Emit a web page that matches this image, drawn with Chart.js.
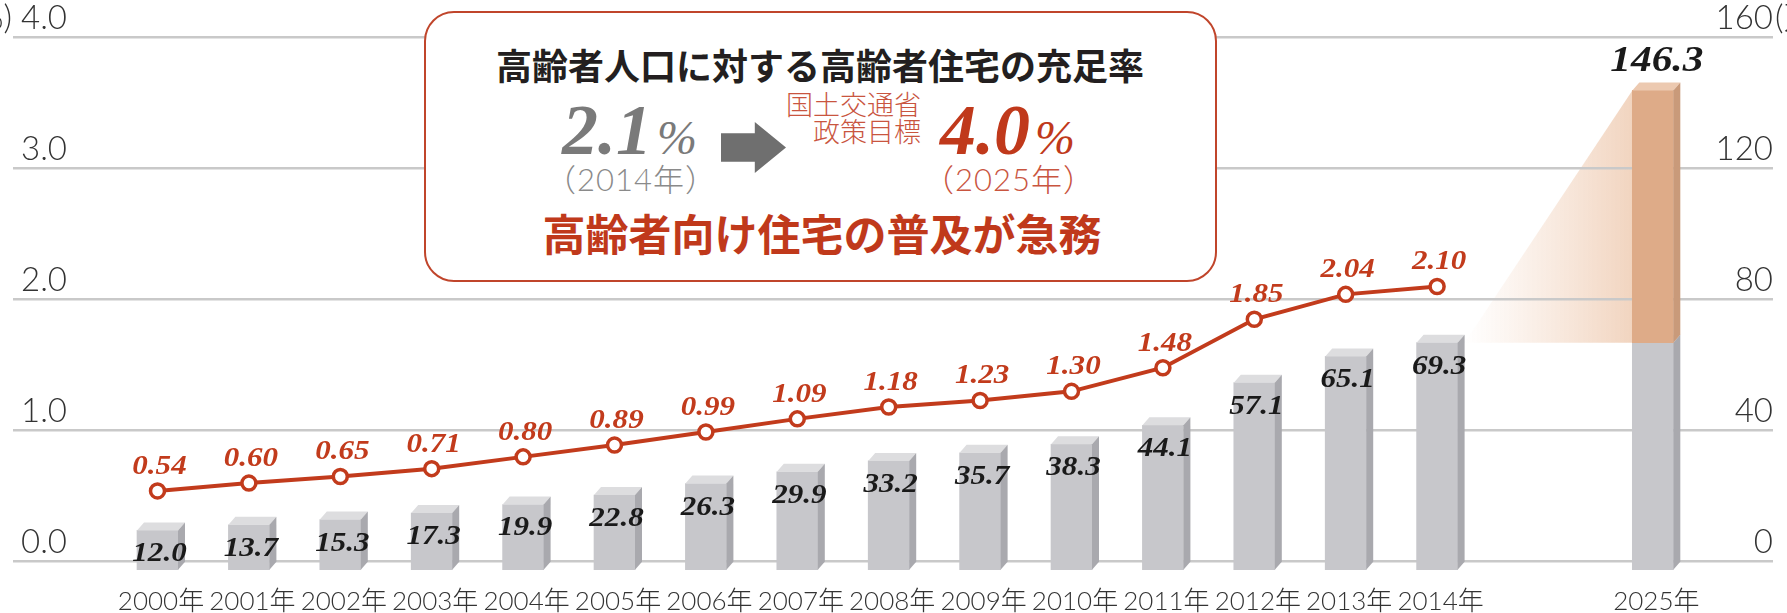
<!DOCTYPE html>
<html lang="ja">
<head>
<meta charset="utf-8">
<title>高齢者人口に対する高齢者住宅の充足率</title>
<script src="https://cdn.jsdelivr.net/npm/chart.js@4.4.1/dist/chart.umd.min.js"></script>
<style>
	html, body { margin: 0; padding: 0; background: #fff; }
	#wrap { position: relative; width: 1787px; height: 613px; overflow: hidden; }
	#chart { position: absolute; left: 0; top: 0; }
	.box {
		position: absolute; left: 424px; top: 11px; width: 793px; height: 271px;
		box-sizing: border-box; border: 2.5px solid #c0452b; border-radius: 30px; background: #fff;
	}
	.t { position: absolute; white-space: nowrap; line-height: 1; }
	.c { transform: translate(-50%, -50%); }
	.jp { font-family: "Noto Sans CJK JP", sans-serif; }
	.thin { font-family: Lato, "Noto Sans CJK JP", sans-serif; font-weight: 300; }
	.num { font-family: "Liberation Serif", "Times New Roman", serif; font-style: italic; font-weight: 700; font-size: 72px; }
	.num .pct { font-weight: 400; font-size: 48px; margin-left: 5px; }
	.title { left: 820px; top: 64px; font-size: 36px; font-weight: 700; color: #231f20; }
	.now { left: 562px; top: 94px; color: #7a7a7a; }
	.now-year { left: 631px; top: 179px; font-size: 31px; letter-spacing: 1px; color: #8a8a8a; }
	.arrow {
		position: absolute; left: 721px; top: 122px; width: 65px; height: 51px; background: #6f6f6f;
		clip-path: polygon(0 22%, 52% 22%, 52% 0, 100% 50%, 52% 100%, 52% 78%, 0 78%);
	}
	.policy { right: 866px; top: 91px; font-size: 27px; line-height: 27px; text-align: right; color: #c9553f; }
	.goal { left: 940px; top: 94px; color: #c0391b; }
	.goal-year { left: 1009px; top: 179px; font-size: 31px; letter-spacing: 1px; color: #c9553f; }
	.slogan { left: 822px; top: 232px; font-size: 43px; font-weight: 700; color: #c0391b; }
</style>
</head>
<body>
<div id="wrap">
	<canvas id="chart" width="1787" height="613"></canvas>
	<div class="box"></div>
	<div class="t c jp title">高齢者人口に対する高齢者住宅の充足率</div>
	<div class="t num now">2.1<span class="pct">%</span></div>
	<div class="t c thin now-year">（2014年）</div>
	<div class="arrow"></div>
	<div class="t thin policy">国土交通省<br>政策目標</div>
	<div class="t num goal">4.0<span class="pct">%</span></div>
	<div class="t c thin goal-year">（2025年）</div>
	<div class="t c jp slogan">高齢者向け住宅の普及が急務</div>
</div>
<script>
// data
const years = ["2000年", "2001年", "2002年", "2003年", "2004年", "2005年", "2006年", "2007年",
	"2008年", "2009年", "2010年", "2011年", "2012年", "2013年", "2014年"];
const targetYear = "2025年";
const housing = [12.0, 13.7, 15.3, 17.3, 19.9, 22.8, 26.3, 29.9, 33.2, 35.7, 38.3, 44.1, 57.1, 65.1, 69.3];
const housingTarget = 146.3;
const rate = [0.54, 0.60, 0.65, 0.71, 0.80, 0.89, 0.99, 1.09, 1.18, 1.23, 1.30, 1.48, 1.85, 2.04, 2.10];
const rateTicks = [0, 1, 2, 3, 4];
const housingTicks = [0, 40, 80, 120, 160];

// layout
const GAP_2025 = 2.36; // slot distance between 2014 and 2025
const DX = 7, DY = 8;  // bar depth
const RED = "#c23b1c";
const LABEL_FONT = "italic bold 27px 'Liberation Serif', 'Times New Roman', serif";

const last = housing.length - 1;
const slots = years.map((y, i) => i).concat([last + GAP_2025]);
const slot2025 = slots[slots.length - 1];
const xLabels = years.concat([targetYear]);

const drawStretched = (ctx, text, x, y, font, color) => {
	ctx.save();
	ctx.font = font;
	ctx.fillStyle = color;
	ctx.textAlign = "center";
	ctx.textBaseline = "middle";
	ctx.translate(x, y);
	ctx.scale(1.15, 1);
	ctx.fillText(text, 0, 0);
	ctx.restore();
};

const barBox = (el) => {
	const p = el.getProps(["x", "y", "base", "width"], true);
	return {
		l: p.x - p.width / 2,
		r: p.x + p.width / 2,
		top: Math.min(p.y, p.base),
		bot: Math.max(p.y, p.base),
	};
};

const bars3d = {
	id: "bars3d",
	beforeDraw(chart) {
		// light fan from the 2014 bar up to the 2025 target
		const gray = chart.getDatasetMeta(0).data[last];
		const orange = chart.getDatasetMeta(1).data[0];
		if (!gray || !orange) return;
		const a = barBox(gray);
		const b = barBox(orange);
		const ctx = chart.ctx;
		const x0 = a.r + DX;
		const grad = ctx.createLinearGradient(x0, 0, b.l, 0);
		grad.addColorStop(0, "rgba(242, 210, 188, 0)");
		grad.addColorStop(1, "rgba(238, 202, 176, 0.8)");
		ctx.save();
		ctx.fillStyle = grad;
		ctx.beginPath();
		ctx.moveTo(x0, a.top + DY);
		ctx.lineTo(b.l, b.top + DY);
		ctx.lineTo(b.l, b.bot + DY);
		ctx.closePath();
		ctx.fill();
		ctx.restore();
	},
	beforeDatasetDraw(chart, args) {
		if (args.meta.type !== "bar") return;
		chart.ctx.save();
		chart.ctx.translate(0, DY);
	},
	afterDatasetDraw(chart, args) {
		if (args.meta.type !== "bar") return;
		const ctx = chart.ctx;
		const ds = chart.data.datasets[args.index];
		args.meta.data.forEach((el) => {
			const { l, r, top, bot } = barBox(el);
			ctx.fillStyle = ds.topColor;
			ctx.beginPath();
			ctx.moveTo(l, top);
			ctx.lineTo(r, top);
			ctx.lineTo(r + DX, top - DY);
			ctx.lineTo(l + DX, top - DY);
			ctx.closePath();
			ctx.fill();
			ctx.fillStyle = ds.sideColor;
			ctx.beginPath();
			ctx.moveTo(r, top);
			ctx.lineTo(r + DX, top - DY);
			ctx.lineTo(r + DX, bot - DY);
			ctx.lineTo(r, bot);
			ctx.closePath();
			ctx.fill();
		});
		ctx.restore();
	},
	afterDatasetsDraw(chart) {
		const ctx = chart.ctx;
		const { x, y, y2 } = chart.scales;
		housing.forEach((v, i) => {
			drawStretched(ctx, v.toFixed(1), x.getPixelForValue(i) + 2, y2.getPixelForValue(v) + 32, LABEL_FONT, "#1a1a1a");
		});
		drawStretched(ctx, housingTarget.toFixed(1), x.getPixelForValue(slot2025) + 4,
			y2.getPixelForValue(housingTarget) - 21, "italic bold 36px 'Liberation Serif', serif", "#1a1a1a");
		rate.forEach((v, i) => {
			drawStretched(ctx, v.toFixed(2), x.getPixelForValue(i) + 2, y.getPixelForValue(v) - 24, LABEL_FONT, RED);
		});
	},
	afterDraw(chart) {
		const ctx = chart.ctx;
		const { y, y2 } = chart.scales;
		ctx.save();
		ctx.font = "300 33px Lato, 'Noto Sans CJK JP', sans-serif";
		ctx.fillStyle = "#333";
		ctx.textBaseline = "middle";
		ctx.textAlign = "right";
		ctx.fillText("(%)", 12, y.getPixelForValue(4) - 19.5);
		ctx.textAlign = "left";
		ctx.fillText("(万戸)", 1775, y2.getPixelForValue(160) - 19.5);
		ctx.restore();
	},
};

const tickFont = { family: "Lato, 'Noto Sans CJK JP', sans-serif", size: 33, weight: 300 };

new Chart(document.getElementById("chart"), {
	data: {
		datasets: [
			{
				type: "bar",
				label: "高齢者住宅",
				yAxisID: "y2",
				data: housing.map((v, i) => ({ x: slots[i], y: v })).concat([{ x: slot2025, y: housing[last] }]),
				backgroundColor: "#c7c7cb",
				sideColor: "#a9a9ae",
				topColor: "#dddddf",
				barThickness: 41,
				maxBarThickness: 41,
				grouped: false,
				borderWidth: 0,
				clip: false,
				order: 2,
			},
			{
				type: "bar",
				label: "目標",
				yAxisID: "y2",
				data: [{ x: slot2025, y: [housing[last], housingTarget] }],
				backgroundColor: "#deab88",
				sideColor: "#c99a7a",
				topColor: "#ecc9b0",
				barThickness: 41,
				maxBarThickness: 41,
				grouped: false,
				borderWidth: 0,
				clip: false,
				order: 1,
			},
			{
				type: "line",
				label: "充足率",
				yAxisID: "y",
				data: rate.map((v, i) => ({ x: slots[i], y: v })),
				borderColor: RED,
				borderWidth: 4,
				pointRadius: 7,
				pointBorderWidth: 3.5,
				pointBackgroundColor: "#fff",
				pointBorderColor: RED,
				tension: 0,
				clip: false,
				order: 0,
			},
		],
	},
	options: {
		responsive: false,
		animation: false,
		layout: { padding: { left: 13, right: 14, top: 37.5, bottom: 0 } },
		plugins: { legend: { display: false }, tooltip: { enabled: false } },
		scales: {
			x: {
				type: "linear",
				offset: false,
				min: -1.581,
				max: 17.675,
				afterBuildTicks: (s) => { s.ticks = slots.map((v) => ({ value: v })); },
				afterFit: (s) => { s.height = 51.3; s.paddingLeft = 0; s.paddingRight = 0; },
				grid: { display: false, offset: false },
				border: { display: false },
				ticks: {
					autoSkip: false,
					maxRotation: 0,
					minRotation: 0,
					padding: 16,
					labelOffset: 3.5,
					color: "#333",
					font: { family: tickFont.family, size: 26, weight: 300 },
					callback: (v, i) => xLabels[i],
				},
			},
			y: {
				position: "left",
				min: 0,
				max: 4,
				afterBuildTicks: (s) => { s.ticks = rateTicks.map((v) => ({ value: v })); },
				afterFit: (s) => { s.width = 0; },
				grid: { color: "#c9c9c9", lineWidth: 2.5, drawTicks: false },
				border: { display: false },
				ticks: {
					mirror: true,
					padding: 8,
					labelOffset: -19.5,
					color: "#333",
					font: tickFont,
					callback: (v) => v.toFixed(1),
				},
			},
			y2: {
				position: "right",
				min: 0,
				max: 160,
				afterBuildTicks: (s) => { s.ticks = housingTicks.map((v) => ({ value: v })); },
				afterFit: (s) => { s.width = 0; },
				grid: { display: false, drawTicks: false },
				border: { display: false },
				ticks: {
					mirror: true,
					padding: 0,
					labelOffset: -19.5,
					color: "#333",
					font: tickFont,
					callback: (v) => String(v),
				},
			},
		},
	},
	plugins: [bars3d],
});
</script>
</body>
</html>
